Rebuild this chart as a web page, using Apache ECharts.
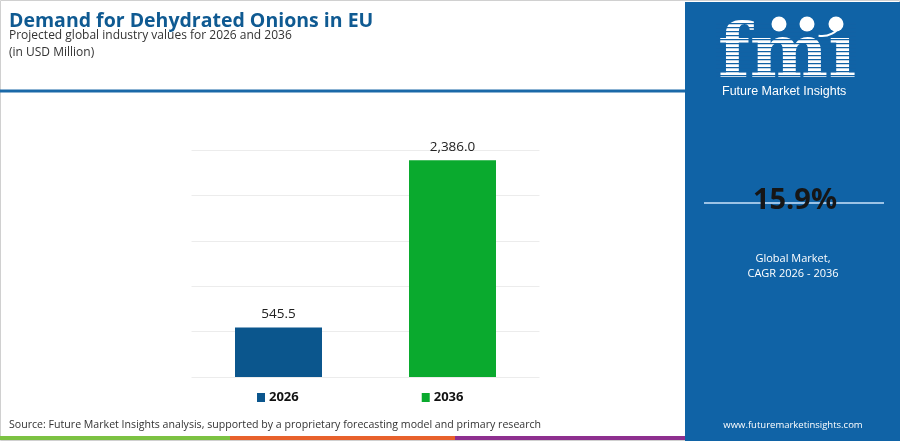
<!DOCTYPE html>
<html><head><meta charset="utf-8">
<script src="https://cdn.jsdelivr.net/npm/echarts@6/dist/echarts.min.js"></script>
<style>html,body{margin:0;padding:0;background:#fff}#c{width:900px;height:441px}</style>
</head><body><div id="c"></div>
<script>
const categories = ['2026', '2036'];
const seriesNames = ['2026', '2036'];
const values2026 = [545.5, '-'];
const values2036 = ['-', 2386.0];
const yTicks = [0, 500, 1000, 1500, 2000, 2500];
const cagrText = '15.9%';

const chart = echarts.init(document.getElementById('c'), null, {renderer: 'canvas'});
const fmt = v => Number(v.value).toLocaleString('en-US', {minimumFractionDigits: 1, maximumFractionDigits: 1});
const FONT = '"Open Sans", "Noto Sans", sans-serif';

const stripes = [];
for (let y = 23; y < 78; y += 4) {
  stripes.push({type: 'rect', shape: {x: 716, y: y, width: 140, height: 1.3}, style: {fill: '#1262a5'}, z: 20});
}

chart.setOption({
  animation: false,
  title: [
    {text: 'Demand for Dehydrated Onions in EU', left: 9, top: 11, padding: 0,
     textStyle: {fontFamily: FONT, fontWeight: 'bold', fontSize: 19.5, color: '#0f5a92'}},
    {text: 'Projected global industry values for 2026 and 2036\n(in USD Million)', left: 9, top: 27, padding: 0,
     textStyle: {fontFamily: FONT, fontWeight: 'normal', fontSize: 12, color: '#333', lineHeight: 17}}
  ],
  grid: {left: 191.5, right: 360.5, top: 150, bottom: 64},
  xAxis: {type: 'category', data: categories, axisLine: {show: false}, axisTick: {show: false}, axisLabel: {show: false}},
  yAxis: {type: 'value', min: 0, max: 2500, interval: 500, axisLabel: {show: false},
          axisLine: {show: false}, axisTick: {show: false}, splitLine: {lineStyle: {color: '#ececec', width: 1}}},
  legend: {left: 257, top: 391, padding: 0, itemWidth: 8, itemHeight: 9, itemGap: 123, icon: 'rect',
           data: seriesNames, selectedMode: false,
           textStyle: {fontFamily: FONT, fontWeight: 'bold', fontSize: 13, color: '#111', padding: [0, 0, 0, -1]}},
  series: [
    {name: seriesNames[0], type: 'bar', data: values2026, barWidth: 87, barGap: '-100%',
     itemStyle: {color: '#0b568d'},
     label: {show: true, position: 'top', distance: 6, formatter: fmt, fontFamily: FONT, fontSize: 13.5, color: '#222'}},
    {name: seriesNames[1], type: 'bar', data: values2036, barWidth: 87, barGap: '-100%',
     itemStyle: {color: '#0aaa2e'},
     label: {show: true, position: 'top', distance: 6, formatter: fmt, fontFamily: FONT, fontSize: 13.5, color: '#222'}}
  ],
  graphic: [
    {type: 'rect', shape: {x: 0.5, y: 0.5, width: 899, height: 440}, style: {fill: 'none', stroke: '#d0d0d0', lineWidth: 1}, z: -10, silent: true},
    {type: 'rect', shape: {x: 0, y: 89.5, width: 686, height: 3}, style: {fill: '#1a69a8'}},
    {type: 'rect', shape: {x: 685, y: 2, width: 215, height: 439}, style: {fill: '#1063a6'}, z: 5},
    // logo
    {type: 'text', left: 718, top: 21, z: 10,
     style: {text: 'fm\u0131', fill: '#fff', font: 'bold 74px "DejaVu Serif", serif'}},
    ...stripes,
    {type: 'circle', shape: {cx: 779, cy: 24, r: 7.5}, style: {fill: '#fff'}, z: 21},
    {type: 'circle', shape: {cx: 807, cy: 24, r: 7.5}, style: {fill: '#fff'}, z: 21},
    {type: 'circle', shape: {cx: 836, cy: 24, r: 7.5}, style: {fill: '#fff'}, z: 21},
    {type: 'arc', shape: {cx: 822, cy: 14, r: 22, startAngle: Math.PI * 0.15, endAngle: Math.PI * 0.55}, style: {stroke: '#fff', lineWidth: 2, fill: 'none'}, z: 21},
    {type: 'text', left: 722, top: 85, z: 21,
     style: {text: 'Future Market Insights', fill: '#fff', font: '12.5px "Liberation Sans Narrow", "Liberation Sans", sans-serif'}},
    // CAGR
    {type: 'rect', shape: {x: 704, y: 202, width: 180, height: 2}, style: {fill: '#9cc3e6'}, z: 10},
    {type: 'text', x: 795, y: 201, z: 11,
     style: {text: cagrText, fill: '#161616', font: 'bold 29px "Open Sans", sans-serif', textAlign: 'center', textVerticalAlign: 'middle'}},
    {type: 'text', x: 793, y: 266, z: 11,
     style: {text: 'Global Market,\nCAGR 2026 - 2036', fill: '#fff', font: '11px "Open Sans", sans-serif', textAlign: 'center', textVerticalAlign: 'middle', lineHeight: 15}},
    {type: 'text', x: 793, y: 425, z: 11,
     style: {text: 'www.futuremarketinsights.com', fill: '#fff', font: '9.5px "Open Sans", sans-serif', textAlign: 'center', textVerticalAlign: 'middle'}},
    // footer
    {type: 'text', left: 9, top: 419,
     style: {text: 'Source: Future Market Insights analysis, supported by a proprietary forecasting model and primary research', fill: '#333', font: '10.6px "Open Sans", sans-serif'}},
    {type: 'rect', shape: {x: 0, y: 436, width: 230, height: 4}, style: {fill: '#7cc242'}},
    {type: 'rect', shape: {x: 230, y: 436, width: 225, height: 4}, style: {fill: '#e8612c'}},
    {type: 'rect', shape: {x: 455, y: 436, width: 230, height: 4}, style: {fill: '#8e2f8f'}}
  ]
});
</script></body></html>
